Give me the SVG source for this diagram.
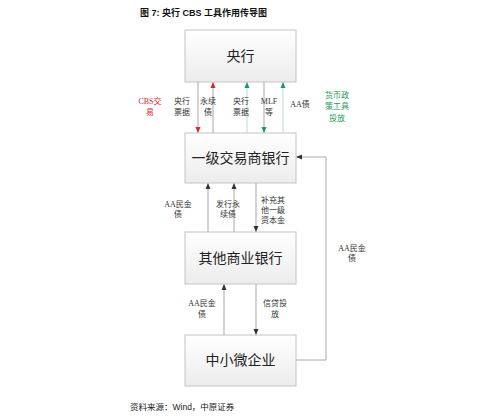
<svg xmlns="http://www.w3.org/2000/svg" width="499" height="420" viewBox="0 0 499 420">
<defs>
<linearGradient id="g" x1="0" y1="0" x2="0" y2="1">
<stop offset="0" stop-color="#ffffff"/>
<stop offset="1" stop-color="#ececec"/>
</linearGradient>
<marker id="ak" markerWidth="6" markerHeight="6" refX="5" refY="3" orient="auto" markerUnits="userSpaceOnUse"><path d="M0,0.5 L6,3 L0,5.5 z" fill="#333"/></marker>
<marker id="ar" markerWidth="6" markerHeight="6" refX="5" refY="3" orient="auto" markerUnits="userSpaceOnUse"><path d="M0,0.5 L6,3 L0,5.5 z" fill="#d9262b"/></marker>
<marker id="ag" markerWidth="6" markerHeight="6" refX="5" refY="3" orient="auto" markerUnits="userSpaceOnUse"><path d="M0,0.5 L6,3 L0,5.5 z" fill="#1a9b5c"/></marker>
</defs>
<style>
.box{fill:url(#g);stroke:#c4c4c4;stroke-width:1}
.bt{font-family:"Noto Sans CJK SC","Liberation Serif",serif;font-size:14px;fill:#222;text-anchor:middle}
.lb{font-family:"Liberation Serif","Noto Sans CJK SC",serif;font-size:8px;fill:#333;text-anchor:middle}
.red{fill:#d9262b}
.grn{fill:#1a9b5c}
.lk{stroke:#a8a8a8;stroke-width:1;fill:none}
.lgn{stroke:#b5e0c8;stroke-width:1;fill:none}
</style>
<rect width="499" height="420" fill="#fff"/>
<text x="140" y="16" font-family="Liberation Sans,Noto Sans CJK SC,sans-serif" font-size="9" font-weight="bold" fill="#111">图 7:  央行 CBS 工具作用传导图</text>
<g id="n1"><rect class="box" x="185" y="30" width="111" height="52"/><text class="bt" x="240.5" y="61">央行</text></g>
<g id="n2"><rect class="box" x="185" y="133" width="111" height="50"/><text class="bt" x="240.5" y="163">一级交易商银行</text></g>
<g id="n3"><rect class="box" x="185" y="232" width="111" height="52"/><text class="bt" x="240.5" y="263">其他商业银行</text></g>
<g id="n4"><rect class="box" x="185" y="335" width="111" height="51"/><text class="bt" x="240.5" y="365">中小微企业</text></g>
<g id="edges">
<line class="lk" x1="198" y1="82" x2="198" y2="132" marker-end="url(#ar)"/>
<line class="lk" x1="213" y1="133" x2="213" y2="83" marker-end="url(#ar)"/>
<line class="lgn" x1="247" y1="133" x2="247" y2="83" marker-end="url(#ag)"/>
<line class="lk" x1="264" y1="82" x2="264" y2="132" marker-end="url(#ag)"/>
<line class="lgn" x1="283" y1="133" x2="283" y2="83" marker-end="url(#ag)"/>
<line class="lk" x1="208" y1="232" x2="208" y2="184" marker-end="url(#ak)"/>
<line class="lk" x1="234" y1="232" x2="234" y2="184" marker-end="url(#ak)"/>
<line class="lk" x1="256" y1="183" x2="256" y2="231" marker-end="url(#ak)"/>
<line class="lk" x1="224" y1="335" x2="224" y2="285" marker-end="url(#ak)"/>
<line class="lk" x1="256" y1="284" x2="256" y2="334" marker-end="url(#ak)"/>
<polyline class="lk" points="296,360 326,360 326,157 297,157" marker-end="url(#ak)"/>
</g>
<g id="labels">
<text class="lb red" x="150" y="104">CBS交</text><text class="lb red" x="150" y="115">易</text>
<text class="lb" x="182" y="104">央行</text><text class="lb" x="182" y="115">票据</text>
<text class="lb" x="208" y="104">永续</text><text class="lb" x="208" y="115">债</text>
<text class="lb" x="241" y="104">央行</text><text class="lb" x="241" y="115">票据</text>
<text class="lb" x="269" y="104">MLF</text><text class="lb" x="269" y="115">等</text>
<text class="lb" x="300" y="107">AA债</text>
<text class="lb grn" x="337" y="98">货币政</text><text class="lb grn" x="337" y="109">策工具</text><text class="lb grn" x="337" y="121">投放</text>
<text class="lb" x="178" y="207">AA民金</text><text class="lb" x="178" y="217">债</text>
<text class="lb" x="228" y="207">发行永</text><text class="lb" x="228" y="217">续债</text>
<text class="lb" x="273" y="203">补充其</text><text class="lb" x="273" y="213">他一级</text><text class="lb" x="273" y="223">资本金</text>
<text class="lb" x="202" y="306">AA民金</text><text class="lb" x="202" y="317">债</text>
<text class="lb" x="275" y="306">信贷投</text><text class="lb" x="275" y="317">放</text>
<text class="lb" x="352" y="251">AA民金</text><text class="lb" x="352" y="261">债</text>
</g>
<text x="130" y="410" font-family="Liberation Sans,Noto Sans CJK SC,sans-serif" font-size="8.5" fill="#222">资料来源：Wind，中原证券</text>
</svg>
